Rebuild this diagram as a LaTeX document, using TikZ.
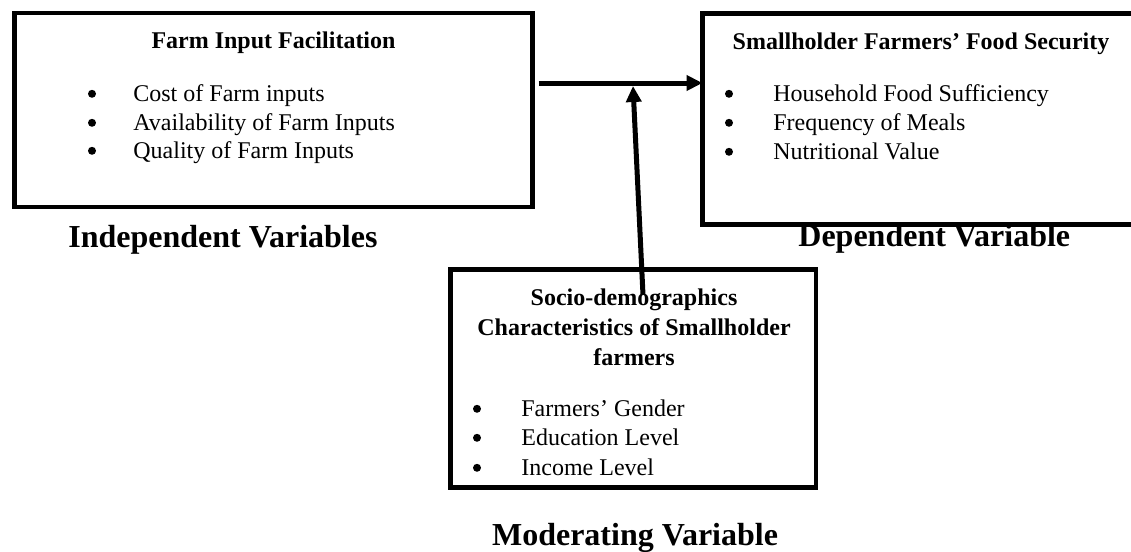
\documentclass[tikz,border=0pt]{standalone}
\usepackage{fontspec}
\setmainfont{Liberation Serif}
\usetikzlibrary{arrows.meta}
\tikzset{
  box/.style={draw=black, fill=white, line width=2.25pt, inner sep=0pt, outer sep=0pt},
  head/.style={font=\fontsize{12}{14}\selectfont\bfseries, inner sep=0pt, anchor=base},
  item/.style={font=\fontsize{12}{14}\selectfont, inner sep=0pt, anchor=base west},
  bul/.style={circle, fill=black, inner sep=0pt, minimum size=4pt, yshift=3.6pt},
  lab/.style={font=\fontsize{16}{19}\selectfont\bfseries, inner sep=0pt, anchor=base west},
  arr/.style={line width=2.5pt, -{Triangle[length=8pt,width=7.5pt]}}
}
\begin{document}
\begin{tikzpicture}[x=0.5pt,y=-0.5pt]
\clip (0,0) rectangle (1131,552);
\fill[white] (0,0) rectangle (1131,552);
% variable labels (drawn first, boxes cover them)
\node[lab] (indlab) at (68,247) {Independent Variables};
\node[lab] (deplab) at (798,246) {Dependent Variable};
\node[lab, anchor=base] (modlab) at (635,545) {Moderating Variable};
% boxes
\node[box, minimum width=259pt, minimum height=97pt] (lb) at (273.5,110) {};
\node[box, minimum width=218.75pt, minimum height=105.5pt] (rb) at (921.25,119) {};
\node[box, minimum width=182.75pt, minimum height=109pt] (bb) at (633.25,378.5) {};
% left box content
\node[head] (lh) at (273.5,48) {Farm Input Facilitation};
\node[bul] (lb1) at (92,101) {};
\node[bul] (lb2) at (92,130) {};
\node[bul] (lb3) at (92,158) {};
\node[item] (li1) at (133,101) {Cost of Farm inputs};
\node[item] (li2) at (133,130) {Availability of Farm Inputs};
\node[item] (li3) at (133,158) {Quality of Farm Inputs};
% right box content
\node[head] (rh) at (921,49) {Smallholder Farmers’ Food Security};
\node[bul] (rb1) at (729,101) {};
\node[bul] (rb2) at (729,130) {};
\node[bul] (rb3) at (729,159) {};
\node[item] (ri1) at (773,101) {Household Food Sufficiency};
\node[item] (ri2) at (773,130) {Frequency of Meals};
\node[item] (ri3) at (773,159) {Nutritional Value};
% bottom box content
\node[head] (bh1) at (634,305) {Socio-demographics};
\node[head] (bh2) at (634,335) {Characteristics of Smallholder};
\node[head] (bh3) at (634,365) {farmers};
\node[bul] (bb1) at (477,416) {};
\node[bul] (bb2) at (477,445) {};
\node[bul] (bb3) at (477,475) {};
\node[item] (bi1) at (521,416) {Farmers’ Gender};
\node[item] (bi2) at (521,445) {Education Level};
\node[item] (bi3) at (521,475) {Income Level};
% connectors
\coordinate (hs) at ([xshift=3pt]lb.east |- 0,83);
\coordinate (he) at (rb.west |- 0,83);
\coordinate (vs) at (643,295);
\coordinate (ve) at (633,86);
\draw[arr] (hs) -- (he);
\draw[arr] (vs) -- (ve);
\end{tikzpicture}
\end{document}
